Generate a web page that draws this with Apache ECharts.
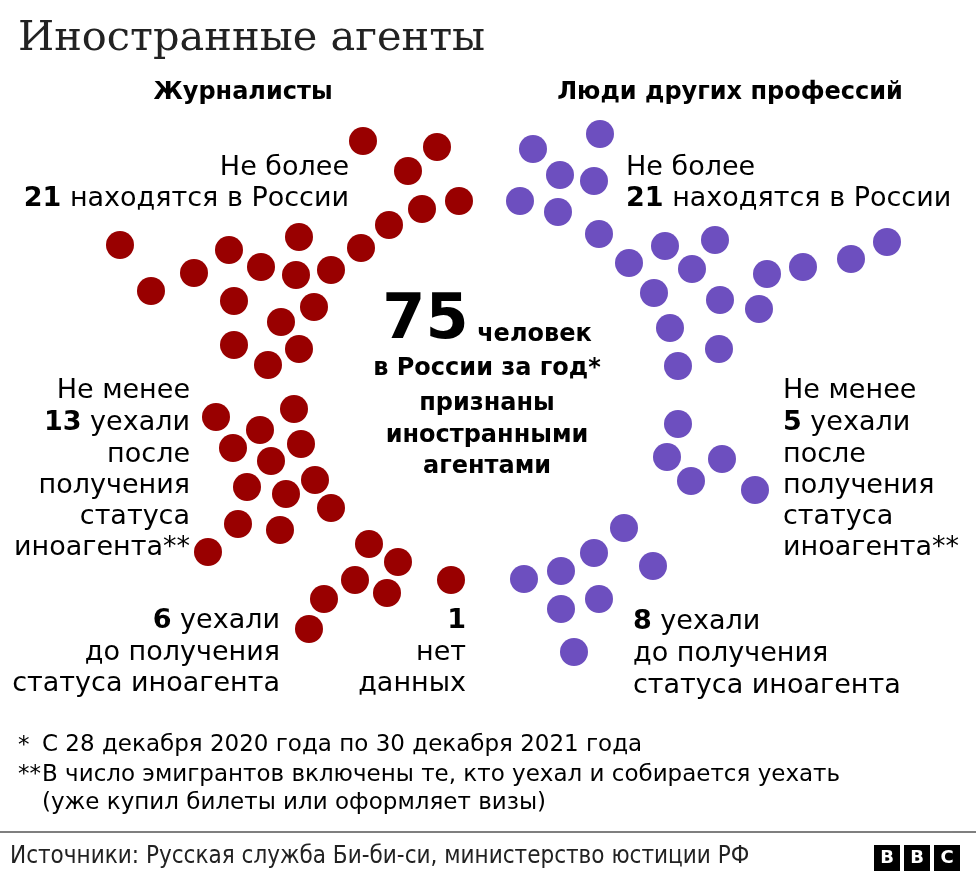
<!DOCTYPE html>
<html><head><meta charset="utf-8">
<script src="https://cdn.jsdelivr.net/npm/echarts@6/dist/echarts.min.js"></script>
<style>html,body{margin:0;padding:0;background:#fff}#c{width:976px;height:880px}</style>
</head><body><div id="c"></div>
<script>
// Dot positions (layout units on a 976x880 canvas) per group
var journalistsInRussia = [[363,141],[437,147],[408,171],[459,201],[422,209],[389,225],[120,245],[299,237],[229,250],[361,248],[194,273],[261,267],[296,275],[331,270],[151,291],[234,301],[314,307],[281,322],[234,345],[299,349],[268,365]];
var journalistsLeftAfter = [[216,417],[294,409],[260,430],[233,448],[301,444],[271,461],[247,487],[286,494],[315,480],[331,508],[238,524],[280,530],[208,552]];
var journalistsLeftBefore = [[369,544],[398,562],[355,580],[387,593],[324,599],[309,629]];
var journalistsNoData = [[451,580]];
var othersInRussia = [[600,134],[533,149],[560,175],[594,181],[520,201],[558,212],[599,234],[665,246],[715,240],[629,263],[692,269],[767,274],[803,267],[851,259],[887,242],[654,293],[720,300],[759,309],[670,328],[719,349],[678,366]];
var othersLeftAfter = [[678,424],[667,457],[722,459],[691,481],[755,490]];
var othersLeftBefore = [[624,528],[594,553],[561,571],[653,566],[524,579],[599,599],[561,609],[574,652]];

var RED = '#990000', PURPLE = '#6d4fbf';
var SANS = '"DejaVu Sans", "Noto Sans", sans-serif';
var BOLD = '"DejaVu Sans", "Noto Sans", sans-serif';
var NARROW = '"Liberation Sans Narrow", "DejaVu Sans Condensed", sans-serif';
var LBL = 27, HDR = 24, FN = 23;

function sc(name, data, color) {
  return {type:'scatter', name:name, data:data, symbolSize:28, itemStyle:{color:color, opacity:1}, silent:true, animation:false};
}
function txt(x, y, text, opt) {
  opt = opt || {};
  return {type:'text', x:x, y:y, silent:true, style:{
    text:text, fill:opt.fill||'#000', font:(opt.weight||'normal')+' '+(opt.size||LBL)+'px '+(opt.family||SANS),
    align:opt.align||'left', verticalAlign:'middle', rich:opt.rich
  }};
}
var richBase = {
  b:{fontFamily:BOLD, fontWeight:'bold', fontSize:LBL, fill:'#000'},
  n:{fontFamily:SANS, fontSize:LBL, fill:'#000'}
};
var chart = echarts.init(document.getElementById('c'), null, {renderer:'canvas'});
chart.setOption({
  backgroundColor:'#fff',
  animation:false,
  grid:{left:0,right:0,top:0,bottom:0},
  xAxis:{type:'value',min:0,max:976,show:false},
  yAxis:{type:'value',min:0,max:880,inverse:true,show:false},
  series:[
    sc('Журналисты: в России', journalistsInRussia, RED),
    sc('Журналисты: уехали после', journalistsLeftAfter, RED),
    sc('Журналисты: уехали до', journalistsLeftBefore, RED),
    sc('Журналисты: нет данных', journalistsNoData, RED),
    sc('Другие: в России', othersInRussia, PURPLE),
    sc('Другие: уехали после', othersLeftAfter, PURPLE),
    sc('Другие: уехали до', othersLeftBefore, PURPLE)
  ],
  graphic:[
    txt(18, 39, 'Иностранные агенты', {size:41.5, family:'"DejaVu Serif", serif', fill:'#222'}),
    txt(243, 93, 'Журналисты', {size:HDR, weight:'bold', family:BOLD, align:'center'}),
    txt(730, 93, 'Люди других профессий', {size:HDR, weight:'bold', family:BOLD, align:'center'}),
    // left in Russia
    txt(349, 168, 'Не более', {align:'right'}),
    txt(349, 199, '{b|21} {n|находятся в России}', {align:'right', rich:richBase}),
    // right in Russia
    txt(626, 168, 'Не более'),
    txt(626, 199, '{b|21} {n|находятся в России}', {rich:richBase}),
    // center
    txt(487, 322, '{big|75} {m|человек}', {align:'center', rich:{
      big:{fontFamily:BOLD, fontWeight:'bold', fontSize:62, fill:'#000', verticalAlign:'bottom'},
      m:{fontFamily:BOLD, fontWeight:'bold', fontSize:HDR, fill:'#000', verticalAlign:'bottom', padding:[0,0,6,0]}
    }}),
    txt(487, 369, 'в России за год*', {size:HDR, weight:'bold', family:BOLD, align:'center'}),
    txt(487, 404, 'признаны', {size:HDR, weight:'bold', family:BOLD, align:'center'}),
    txt(487, 436, 'иностранными', {size:HDR, weight:'bold', family:BOLD, align:'center'}),
    txt(487, 467, 'агентами', {size:HDR, weight:'bold', family:BOLD, align:'center'}),
    // left after
    txt(190, 391, 'Не менее', {align:'right'}),
    txt(190, 423, '{b|13} {n|уехали}', {align:'right', rich:richBase}),
    txt(190, 455, 'после', {align:'right'}),
    txt(190, 486, 'получения', {align:'right'}),
    txt(190, 517, 'статуса', {align:'right'}),
    txt(190, 548, 'иноагента**', {align:'right'}),
    // right after
    txt(783, 391, 'Не менее'),
    txt(783, 423, '{b|5} {n|уехали}', {rich:richBase}),
    txt(783, 455, 'после'),
    txt(783, 486, 'получения'),
    txt(783, 517, 'статуса'),
    txt(783, 548, 'иноагента**'),
    // left before
    txt(280, 621, '{b|6} {n|уехали}', {align:'right', rich:richBase}),
    txt(280, 653, 'до получения', {align:'right'}),
    txt(280, 684, 'статуса иноагента', {align:'right'}),
    // no data
    txt(466, 621, '{b|1}', {align:'right', rich:richBase}),
    txt(466, 653, 'нет', {align:'right'}),
    txt(466, 684, 'данных', {align:'right'}),
    // right before
    txt(633, 622, '{b|8} {n|уехали}', {rich:richBase}),
    txt(633, 654, 'до получения'),
    txt(633, 686, 'статуса иноагента'),
    // footnotes
    txt(18, 746, '*', {size:FN}),
    txt(42, 745, 'С 28 декабря 2020 года по 30 декабря 2021 года', {size:FN}),
    txt(18, 775, '**', {size:FN}),
    txt(42, 775, 'В число эмигрантов включены те, кто уехал и собирается уехать', {size:FN}),
    txt(42, 803, '(уже купил билеты или оформляет визы)', {size:FN}),
    {type:'rect', shape:{x:0, y:831, width:976, height:2}, style:{fill:'#7f7f7f'}, silent:true},
    txt(10, 857, 'Источники: Русская служба Би-би-си, министерство юстиции РФ', {size:24, family:NARROW, fill:'#222'}),
    // BBC blocks
    {type:'rect', shape:{x:874, y:845, width:26, height:26}, style:{fill:'#000'}, silent:true},
    {type:'rect', shape:{x:904, y:845, width:26, height:26}, style:{fill:'#000'}, silent:true},
    {type:'rect', shape:{x:934, y:845, width:26, height:26}, style:{fill:'#000'}, silent:true},
    txt(887, 858, 'B', {size:18, weight:'bold', align:'center', fill:'#fff', family:'"DejaVu Sans", sans-serif'}),
    txt(917, 858, 'B', {size:18, weight:'bold', align:'center', fill:'#fff', family:'"DejaVu Sans", sans-serif'}),
    txt(947, 858, 'C', {size:18, weight:'bold', align:'center', fill:'#fff', family:'"DejaVu Sans", sans-serif'})
  ]
});
</script></body></html>
